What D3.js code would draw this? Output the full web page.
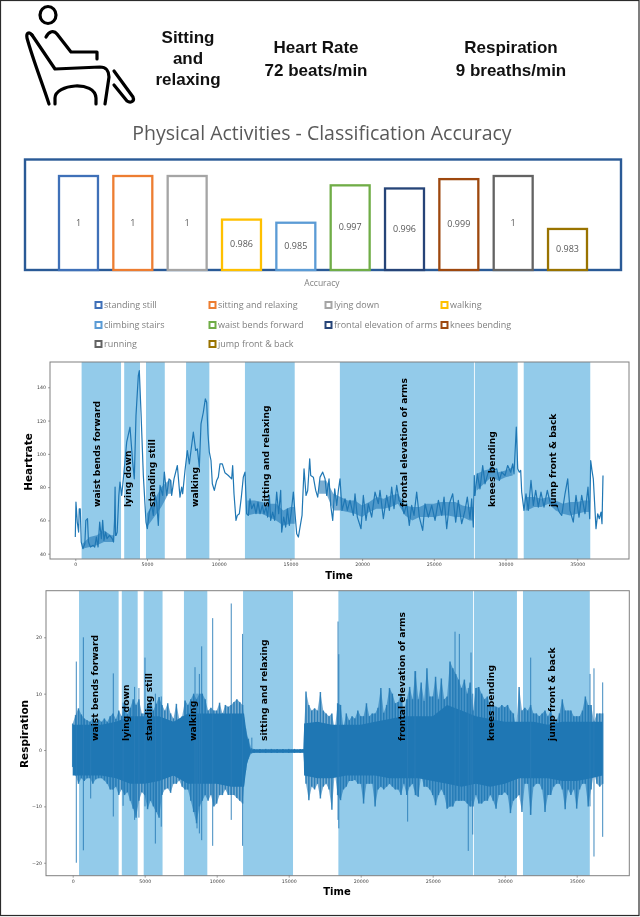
<!DOCTYPE html>
<html>
<head>
<meta charset="utf-8">
<title>Physical Activities</title>
<script src="https://cdn.jsdelivr.net/npm/d3@7"></script>
<style>
    html, body { margin: 0; padding: 0; background: #fff; }
    svg { display: block; filter: blur(0.35px); }
</style>
</head>
<body>
<script>
"use strict";

// Classification accuracy
const categories = ['standing still', 'sitting and relaxing', 'lying down', 'walking', 'climbing stairs',
    'waist bends forward', 'frontal elevation of arms', 'knees bending', 'running', 'jump front & back'];
const accuracy = [1, 1, 1, 0.986, 0.985, 0.997, 0.996, 0.999, 1, 0.983];
const barColors = ['#3f70b8', '#ed7d31', '#a5a5a5', '#ffc000', '#5b9bd5', '#70ad47', '#264478', '#9e480e', '#636363', '#997300'];

// Activity spans on the time axis
const spanNames = ['waist bends forward', 'lying down', 'standing still', 'walking', 'sitting and relaxing',
    'frontal elevation of arms', 'knees bending', 'jump front & back'];
const spanStart = [440, 3410, 4930, 7725, 11830, 18450, 27860, 31270];
const spanEnd = [3190, 4512, 6240, 9348, 15300, 27800, 30850, 35910];

// Heart rate
const heartTime = [0, 46, 138, 230, 276, 345, 414, 530, 667, 736, 851, 920, 1058, 1242, 1357, 1472, 1587, 1702, 1817, 1909,
    2000, 2116, 2208, 2392, 2576, 2668, 2737, 2775, 2806, 2852, 2921, 3036, 3117, 3235, 3396, 3583, 3815, 4000, 4115, 4233,
    4395, 4465, 4582, 4745, 4930, 5024, 5163, 5325, 5441, 5558, 5674, 5790, 5907, 6092, 6209, 6372, 6535, 6651, 6721, 6884,
    7117, 7301, 7419, 7488, 7650, 7813, 7952, 8068, 8231, 8394, 8510, 8649, 8766, 8928, 9068, 9161, 9254, 9347, 9463, 9556,
    9695, 9858, 9974, 10091, 10253, 10439, 10672, 10904, 10974, 11067, 11206, 11299, 11439, 11578, 11717, 11834, 11950, 12067, 12183, 12299,
    12462, 12601, 12741, 12880, 13043, 13159, 13299, 13415, 13532, 13625, 13764, 13904, 14043, 14183, 14323, 14393, 14532, 14672, 14788, 14927,
    15044, 15206, 15323, 15439, 15556, 15672, 15811, 15951, 16090, 16206, 16346, 16416, 16602, 16765, 16904, 17067, 17253, 17416, 17532, 17695,
    17811, 17951, 18090, 18230, 18346, 18460, 18600, 18810, 18970, 19156, 19389, 19505, 19668, 19924, 20086, 20272, 20434, 20668, 20900, 21134,
    21250, 21482, 21716, 21900, 22063, 22226, 22412, 22574, 22760, 22922, 23108, 23293, 23457, 23620, 23806, 23992, 24225, 24387, 24621, 24855,
    25086, 25321, 25555, 25715, 25900, 26085, 26318, 26527, 26709, 26946, 27176, 27336, 27524, 27643, 27754, 27824, 27873, 28033, 28222, 28410,
    28570, 28800, 28968, 29200, 29386, 29569, 29735, 29965, 30153, 30362, 30502, 30593, 30753, 30851, 30964, 31060, 31130, 31290, 31430, 31590,
    31778, 31940, 32106, 32290, 32475, 32684, 32916, 33103, 33333, 33522, 33752, 33919, 34150, 34338, 34498, 34728, 34916, 35126, 35314, 35544,
    35753, 35871, 35941, 36032, 36123, 36311, 36430, 36541, 36660, 36729, 36799];
const heartRate = [50, 71, 59, 53, 67, 67, 47, 43, 46, 60, 61, 47, 44, 45, 44, 50, 44, 59, 49, 60,
    48, 53, 49, 51, 49, 47, 60, 80, 51, 51, 53, 75, 83, 75, 89, 107, 116, 95, 85, 123,
    147, 150, 125, 87, 59, 55, 65, 69, 63, 75, 71, 57, 81, 75, 89, 75, 85, 84, 75, 85,
    93, 74, 80, 76, 90, 102, 94, 102, 113, 102, 103, 92, 118, 125, 133, 131, 112, 101, 96, 82,
    78, 84, 86, 94, 94, 88.6, 87, 85, 93, 76, 60, 63, 64, 74, 86, 89, 64, 63, 73, 67,
    70, 64, 71, 64, 69, 64, 68, 62, 75, 60, 65, 60, 77, 64, 78, 53, 62, 56, 67, 57,
    64, 77, 64, 52, 50, 56, 63, 91, 75, 78, 97, 87, 86, 78, 74, 86, 89, 85, 75, 85,
    69, 60, 79, 69, 78, 85, 66, 73, 66, 72, 63, 76, 62, 55, 75, 60, 70, 62, 77, 70,
    78, 61, 75, 66, 80, 67, 81, 72, 70, 64, 70, 57, 69, 63, 77, 62, 54, 70, 62, 69,
    60, 72, 63, 74, 55, 70, 76, 59, 72, 58, 66, 74, 61, 73, 56, 87, 75, 88, 79, 93,
    82, 89, 92, 90, 91, 84, 89, 87, 93, 89, 94, 88, 116, 91, 89, 90, 77, 66, 76, 66,
    84, 69, 78, 68, 77, 68, 78, 71, 69, 70, 65, 63, 76, 85, 66, 59, 75, 62, 75, 64,
    80, 61, 96, 90, 85, 55, 64, 61, 65, 58, 87];

// Thick jittery core of the heart trace, null where the trace is a clean line
const coreTime = [500, 1000, 1500, 2000, 2500, 2700, 3000, 5000, 5500, 6000, 6500, 6700, 7000, 12000, 12500, 13000, 13500, 14000, 14500, 15000, 15300,
    15600, 17000, 17500, 18000, 18500, 19000, 19500, 20000, 20500, 21000, 21500, 22000, 22500, 23000, 23500, 24000, 24500, 25000, 25500, 26000, 26500,
    27000, 27500, 27750, 27900, 28000, 28500, 29000, 29500, 30000, 30500, 30700, 31400, 31500, 32000, 32500, 33000, 33500, 34000, 34500, 35000, 35500, 35850];
const coreLow = [43, 44, 45, 47, 47, 47, null, 56, 62, 68, 76, 76, null, 63, 64, 64, 62, 60, 57, 58, 58,
    null, 76, 76, 66, 66, 65, 64, 62, 65, 67, 67, 68, 70, 63, 60, 62, 62, 62, 63, 63, 62,
    62, 60, 60, null, 78, 82, 86, 84, 86, 87, null, 66, 66, 68, 68, 70, 66, 64, 63, 64, 65, 65];
const coreHigh = [46, 50, 51, 54, 51, 51, null, 64, 72, 80, 84, 84, null, 72, 72, 71, 70, 70, 66, 68, 68,
    null, 84, 84, 76, 74, 72, 72, 69, 71, 74, 73, 75, 76, 69, 68, 68, 70, 70, 71, 71, 71,
    69, 68, 68, null, 88, 90, 91, 89, 90, 92, null, 74, 74, 74, 73, 74, 72, 70, 71, 71, 72, 72];

// Respiration fringe, one value every 200 samples, five values per 1000
const respStep = 200;
const respUpper = [
    4.7, 6.2, 7.4, 6.3, 5.6,   5.3, 5, 5.6, 5, 5.4,   5, 5.6, 5, 6, 6.5,
    5.5, 7, 6, 8.4, 6.4,   7.5, 9, 8, 9, 6.5,   6.5, 7.8, 9, 7, 8.2,
    9.4, 8, 7, 8.3, 6.5,   5.6, 8.2, 5.5, 6, 8.8,   8, 9, 10, 9, 10,
    10, 9, 7, 7.5, 7,   7, 8.4, 6.5, 8, 7.7,   8, 8.5, 9, 8.5, 8,
    3.8, 2, 0.3, 0.2, 0.1,   0.2, 0.1, 0.2, 0.1, 0.2,   0.1, 0.2, 0.1, 0.2, 0.1,
    0.2, 0.1, 0.2, 0.1, 0.2,   0.2, 10.4, 8, 7, 7.4,   7, 10.3, 7, 6.5, 6,
    6.5, 3.6, 8.3, 8, 4,   6.5, 5.3, 6, 5.6, 7,   6, 6, 8.3, 6, 6.5,
    6.5, 7.5, 11, 6.6, 8,   11, 10, 8.3, 8.5, 10,   7, 9, 11.2, 9, 14,
    9, 12, 8.7, 14.5, 9.5,   9.5, 13, 9, 12.7, 9,   9.5, 15.7, 14.5, 13.5, 12.5,
    11, 12.5, 10, 12, 7,   11, 11.2, 10, 9, 9.5,   7.7, 8, 7.7, 7.5, 8,
    7.6, 8, 7, 6.5, 4.1,   11.2, 7, 7.5, 7, 8,   6.5, 6.5, 6, 6.5, 7,
    6, 7, 5.5, 5.2, 6.5,   9, 7, 7, 7, 6,   6, 6, 7, 9.5, 8,
    8, 5, 6.5, 6.5, 6.5];
const respLower = [
    -3, -4.5, -6, -5, -5.5,   -5, -5, -6, -5.2, -5,   -5, -5.4, -6, -7, -7,
    -6.5, -8, -7, -8, -7.5,   -9, -10.4, -12, -9, -7.5,   -8, -10.5, -9, -10, -11,
    -12, -8, -7, -6.8, -7.6,   -6, -6, -5.4, -6.5, -7,   -7, -9, -11, -13, -10,
    -9, -8, -9, -8, -10,   -9.5, -8, -8, -7, -8,   -8, -8, -8.5, -9, -9.5,
    -3.6, -1.5, -0.6, -0.5, -0.4,   -0.5, -0.4, -0.5, -0.4, -0.5,   -0.4, -0.5, -0.4, -0.5, -0.4,
    -0.5, -0.4, -0.5, -0.4, -0.5,   -0.4, -6, -8.9, -6.5, -7,   -6, -8.6, -6.5, -6, -7,
    -10.6, -4, -8, -8.9, -7,   -6.5, -5.5, -5.5, -5.3, -6,   -6, -9.5, -6, -6, -6,
    -10, -7, -6.5, -7, -6.5,   -6, -6.5, -7, -7, -8,   -6, -8, -6.5, -6, -8,
    -8.3, -4.5, -6.5, -6.5, -7,   -8, -9.8, -8, -7, -8,   -10.4, -10, -10, -9, -9,
    -9, -9, -9.5, -10, -10,   -8, -9.5, -9.5, -9, -9,   -8, -9, -10.4, -8, -8,
    -7.5, -8, -11.2, -9, -8.5,   -8, -11, -6, -6, -11.5,   -6.5, -6, -6, -7, -11,
    -8, -8, -6.5, -6, -6,   -7, -10.5, -7, -8, -7,   -10.4, -7, -6, -6, -10,
    -7, -4, -6, -6.5, -6];

// Solid body of the respiration signal
const bodyTime = [0, 1000, 2000, 3000, 4000, 5000, 6000, 7000, 8000, 9000, 10000, 11000, 11900, 12100, 12350, 16040, 16070,
    17000, 18000, 19000, 20000, 21000, 22000, 23000, 24000, 25000, 26000, 27000, 28000, 29000, 30000, 31000, 32000, 33000, 34000, 35000, 36000, 36800];
const bodyUpper = [4.5, 4.5, 4.5, 5, 6, 6, 6, 5, 6.5, 6.5, 6.5, 6.5, 6.5, 2.5, 0.1, 0.1, 4.7,
    5, 4.5, 4.5, 4.5, 5, 5.5, 6, 6, 6, 8, 7, 6, 5.5, 5, 5, 5, 4.5, 5, 5, 5, 5];
const bodyLower = [-4.5, -4.5, -4.5, -5, -6, -6, -5.5, -4.5, -6, -6, -6, -6.5, -6.5, -2.5, -0.5, -0.5, -4.5,
    -5, -5, -4.5, -4.5, -4.5, -5, -5, -5, -5.5, -6, -6.5, -6, -6.5, -6, -5, -5, -5, -5.5, -5.5, -5, -4.5];

// Respiration spikes that stick out of the fringe
const spikeTime = [250, 740, 1250, 2820, 3500, 4300, 4600, 5020, 5740, 6150, 8494, 8634, 8796, 8958, 9722, 11010, 11800, 12440,
    18425, 18480, 23260, 23770, 26550, 26850, 27470, 27660, 27780, 31805, 35925, 36200, 36805];
const spikeHigh = [15.7, 20, 5, 13.6, 8.4, 11.2, 11, 16.4, 10, 9.5, 14.7, 10, 13.5, 18.4, 23.4, 26, 20.6, 2.2,
    22.8, 17, 9, 14, 21, 20.6, 11, 17.3, 10, 16.4, 13.5, 14.5, 12];
const spikeLow = [-20, -17.8, -8.6, -11.8, -9.9, -12.4, -12, -10, -16.6, -13.6, -11, -13.9, -14.8, -16, -17, -12.4, -17, -0.5,
    -12.4, -13.9, -12.7, -7, -9, -9, -17.9, -9, -15, -11.5, -10, -18.9, -15.4];

// Axis ticks
const timeTicks = [0, 5000, 10000, 15000, 20000, 25000, 30000, 35000];
const heartTicks = [40, 60, 80, 100, 120, 140];
const respTicks = [-20, -10, 0, 10, 20];

const svg = d3.select('body').append('svg')
    .attr('width', 640)
    .attr('height', 917);

function drawHeader() {
    svg.append('rect')
        .attr('x', 0.5)
        .attr('y', 0.5)
        .attr('width', 638.5)
        .attr('height', 915)
        .attr('fill', 'none')
        .attr('stroke', '#2b2b2b')
        .attr('stroke-width', 1.2);

    // Sitting person icon
    let icon = svg.append('g')
        .attr('fill', 'none')
        .attr('stroke', '#000')
        .attr('stroke-width', 3.2)
        .attr('stroke-linecap', 'round')
        .attr('stroke-linejoin', 'round');
    icon.append('ellipse').attr('cx', 48).attr('cy', 15).attr('rx', 8).attr('ry', 8.5);
    icon.append('path').attr('d', 'M46,37 C49,31 54,30 57,34 L71,52 L97,52 L97,59');
    icon.append('path').attr('d', 'M32,35 L55,69 L100,67 C106,67 109,71 109,77 L105,104');
    icon.append('path').attr('d', 'M32,35 C29,31 26,33 27,38 C33,60 43,85 49,104');
    icon.append('path').attr('d', 'M55,104 L55,98 C55,84 95,80 96,98 L96,104');
    icon.append('path').attr('d', 'M114,71 L133,97 C135,102 130,103 127,101 L114,85');

    let headerText = [
        ['Sitting', 188, 43], ['and', 188, 64], ['relaxing', 188, 85],
        ['Heart Rate', 316, 53], ['72 beats/min', 316, 76],
        ['Respiration', 511, 53], ['9 breaths/min', 511, 76]
    ];
    svg.selectAll('.header-text')
        .data(headerText)
        .enter().append('text')
        .attr('class', 'header-text')
        .attr('x', d => d[1])
        .attr('y', d => d[2])
        .attr('text-anchor', 'middle')
        .attr('font-family', 'Liberation Sans')
        .attr('font-weight', 'bold')
        .attr('font-size', 17)
        .attr('fill', '#111')
        .text(d => d[0]);
}

function drawAccuracy() {
    let x = d3.scaleBand().domain(categories).range([58, 588]).paddingInner(0.246).paddingOuter(0);
    let y = d3.scaleLinear().domain([0.9695, 1]).range([270, 175]);

    svg.append('text')
        .attr('x', 322)
        .attr('y', 140)
        .attr('text-anchor', 'middle')
        .attr('font-family', 'Open Sans')
        .attr('font-size', 19.5)
        .attr('fill', '#595959')
        .text('Physical Activities - Classification Accuracy');

    svg.append('rect')
        .attr('x', 25)
        .attr('y', 159.5)
        .attr('width', 596)
        .attr('height', 110.5)
        .attr('fill', 'none')
        .attr('stroke', '#2a5a96')
        .attr('stroke-width', 2.4);

    svg.selectAll('.bar')
        .data(categories)
        .enter().append('rect')
        .attr('class', 'bar')
        .attr('x', d => x(d) + 1)
        .attr('y', (d, i) => y(accuracy[i]) + 1)
        .attr('width', x.bandwidth() - 2)
        .attr('height', (d, i) => y.range()[0] - y(accuracy[i]) - 1)
        .attr('fill', '#fff')
        .attr('stroke', (d, i) => barColors[i])
        .attr('stroke-width', 2.3);

    svg.selectAll('.bar-value')
        .data(categories)
        .enter().append('text')
        .attr('class', 'bar-value')
        .attr('x', d => x(d) + x.bandwidth() / 2)
        .attr('y', (d, i) => (y(accuracy[i]) + y.range()[0]) / 2 + 3)
        .attr('text-anchor', 'middle')
        .attr('font-family', 'Open Sans')
        .attr('font-size', 9)
        .attr('fill', '#595959')
        .text((d, i) => accuracy[i]);

    svg.append('text')
        .attr('x', 322)
        .attr('y', 286)
        .attr('text-anchor', 'middle')
        .attr('font-family', 'Open Sans')
        .attr('font-size', 8.5)
        .attr('fill', '#7f7f7f')
        .text('Accuracy');

    // Legend, four entries per row
    let legendX = [95, 209, 325, 441];
    let legendY = [305, 325, 344];
    let legend = svg.selectAll('.legend')
        .data(categories)
        .enter().append('g')
        .attr('class', 'legend')
        .attr('transform', (d, i) => `translate(${legendX[i % 4]},${legendY[Math.floor(i / 4)]})`);
    legend.append('rect')
        .attr('x', 0.5)
        .attr('y', -3)
        .attr('width', 6)
        .attr('height', 6)
        .attr('fill', '#fff')
        .attr('stroke', (d, i) => barColors[i])
        .attr('stroke-width', 2);
    legend.append('text')
        .attr('x', 9)
        .attr('y', 3)
        .attr('font-family', 'Open Sans')
        .attr('font-size', 9)
        .attr('fill', '#7f7f7f')
        .text(d => d);
}

// Shared frame of the two time plots
function drawTimePlot(box, xDomain, yDomain, yTicks, yName, labelTime, labelBase, labelPos, drawTrace) {
    let x = d3.scaleLinear().domain(xDomain).range([box.left, box.right]);
    let y = d3.scaleLinear().domain(yDomain).range([box.bottom, box.top]);

    svg.append('g').selectAll('rect')
        .data(spanNames)
        .enter().append('rect')
        .attr('x', (d, i) => x(spanStart[i]))
        .attr('y', box.top)
        .attr('width', (d, i) => x(spanEnd[i]) - x(spanStart[i]))
        .attr('height', box.bottom - box.top)
        .attr('fill', '#93cbea');

    drawTrace(x, y);

    svg.append('rect')
        .attr('x', box.left)
        .attr('y', box.top)
        .attr('width', box.right - box.left)
        .attr('height', box.bottom - box.top)
        .attr('fill', 'none')
        .attr('stroke', '#808080')
        .attr('stroke-width', 1);

    let xAxis = svg.append('g')
        .attr('transform', `translate(0,${box.bottom})`)
        .call(d3.axisBottom(x).tickValues(timeTicks).tickFormat(d3.format('d')).tickSize(2).tickPadding(2));
    let yAxis = svg.append('g')
        .attr('transform', `translate(${box.left},0)`)
        .call(d3.axisLeft(y).tickValues(yTicks).tickSize(2).tickPadding(2));
    [xAxis, yAxis].forEach(axis => {
        axis.select('.domain').remove();
        axis.selectAll('line').attr('stroke', '#666').attr('stroke-width', 0.6);
        axis.selectAll('text')
            .attr('font-family', 'DejaVu Sans')
            .attr('font-size', 4.7)
            .attr('fill', '#444');
    });

    svg.append('g').selectAll('text')
        .data(spanNames)
        .enter().append('text')
        .attr('transform', (d, i) => `translate(${x(labelTime[i])},${y(labelBase)}) rotate(-90)`)
        .attr('dy', '0.35em')
        .attr('font-family', 'DejaVu Sans')
        .attr('font-weight', 'bold')
        .attr('font-size', 9.2)
        .attr('fill', '#000')
        .text(d => d);

    svg.append('text')
        .attr('transform', `translate(${labelPos.yx},${labelPos.yy}) rotate(-90)`)
        .attr('text-anchor', 'middle')
        .attr('dy', '0.35em')
        .attr('font-family', 'DejaVu Sans')
        .attr('font-weight', 'bold')
        .attr('font-size', 10.5)
        .attr('fill', '#000')
        .text(yName);
    svg.append('text')
        .attr('x', labelPos.xx)
        .attr('y', labelPos.xy)
        .attr('text-anchor', 'middle')
        .attr('dy', '0.35em')
        .attr('font-family', 'DejaVu Sans')
        .attr('font-weight', 'bold')
        .attr('font-size', 10)
        .attr('fill', '#000')
        .text('Time');
}

function drawHeart() {
    drawTimePlot({left: 50, right: 629, top: 362, bottom: 559}, [-1764, 38612], [36.8, 155.2], heartTicks, 'Heartrate',
        [1520, 3690, 5330, 8350, 13300, 22900, 29050, 33300], 68,
        {yx: 28, yy: 462, xx: 339, xy: 575},
        (x, y) => {
            let core = d3.area()
                .defined((d, i) => coreLow[i] !== null)
                .x(d => x(d))
                .y0((d, i) => y(coreLow[i]))
                .y1((d, i) => y(coreHigh[i]));
            svg.append('path')
                .datum(coreTime)
                .attr('d', core)
                .attr('fill', '#1f77b4')
                .attr('fill-opacity', 0.6);

            let line = d3.line()
                .x(d => x(d))
                .y((d, i) => y(heartRate[i]));
            svg.append('path')
                .datum(heartTime)
                .attr('d', line)
                .attr('fill', 'none')
                .attr('stroke', '#1f77b4')
                .attr('stroke-width', 1.2)
                .attr('stroke-linejoin', 'round');
        });
}

function drawRespiration() {
    drawTimePlot({left: 46, right: 629.3, top: 590.7, bottom: 875.7}, [-1854, 38653], [-22.3, 28.27], respTicks, 'Respiration',
        [1550, 3660, 5290, 8310, 13290, 22850, 29050, 33300], 1.6,
        {yx: 24, yy: 734, xx: 337, xy: 891},
        (x, y) => {
            // Fringe: a light band under one thin stroke per sample column
            let fringe = d3.area()
                .x((d, i) => x(i * respStep))
                .y0((d, i) => y(respLower[i]))
                .y1(d => y(d));
            svg.append('path')
                .datum(respUpper)
                .attr('d', fringe)
                .attr('fill', '#1f77b4')
                .attr('fill-opacity', 0.6);

            svg.append('g').selectAll('line')
                .data(respUpper)
                .enter().append('line')
                .attr('x1', (d, i) => x(i * respStep))
                .attr('x2', (d, i) => x(i * respStep))
                .attr('y1', d => y(d))
                .attr('y2', (d, i) => y(respLower[i]))
                .attr('stroke', '#1f77b4')
                .attr('stroke-opacity', 0.85)
                .attr('stroke-width', 1.5);

            let body = d3.area()
                .x(d => x(d))
                .y0((d, i) => y(bodyLower[i]))
                .y1((d, i) => y(bodyUpper[i]));
            svg.append('path')
                .datum(bodyTime)
                .attr('d', body)
                .attr('fill', '#1f77b4');

            svg.append('g').selectAll('line')
                .data(spikeTime)
                .enter().append('line')
                .attr('x1', d => x(d))
                .attr('x2', d => x(d))
                .attr('y1', (d, i) => y(spikeHigh[i]))
                .attr('y2', (d, i) => y(spikeLow[i]))
                .attr('stroke', '#2a7db8')
                .attr('stroke-width', 0.9);
        });
}

drawHeader();
drawAccuracy();
drawHeart();
drawRespiration();
</script>
</body>
</html>
